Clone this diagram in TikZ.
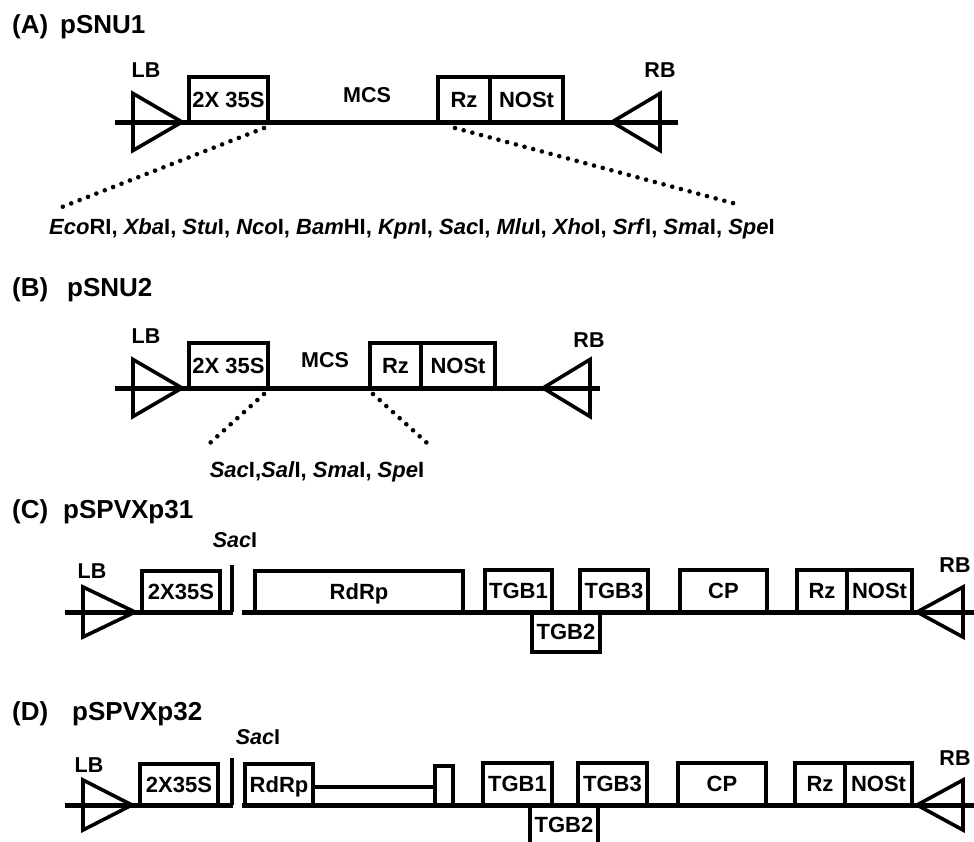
\documentclass[tikz,border=0pt]{standalone}
\usepackage{fontspec}
\setmainfont{Liberation Sans}
\newcommand{\ez}[2]{\textit{#1}#2}
\newcommand{\gb}[6]{\node[gbox, minimum width={#3-#2}, minimum height={#5-#4}] (#1) at ({(#2+#3)/2},{(#4+#5)/2}) {#6};}
\begin{document}
\begin{tikzpicture}[x=1pt,y=-1pt,
  mline/.style={line width=5pt},
  gbox/.style={draw, line width=3.6pt, inner sep=0pt, font=\fontsize{22}{22}\selectfont\bfseries, text height=15.1pt, text depth=0pt},
  tri/.style={draw, line width=3.6pt, line join=miter},
  bar/.style={line width=3.6pt},
  lbl/.style={inner sep=0pt, font=\fontsize{21.5}{21.5}\selectfont\bfseries, text height=14.8pt, text depth=0pt},
  ttl/.style={inner sep=0pt, anchor=base west, font=\fontsize{26}{26}\selectfont\bfseries},
  enz/.style={inner sep=0pt, anchor=base, font=\fontsize{22}{22}\selectfont\bfseries},
  dots/.style={line width=4.6pt, line cap=round, dash pattern=on 0pt off 9pt}]
\useasboundingbox (0,0) rectangle (974,841);

% ---------------- (A) pSNU1 ----------------
\node[ttl] (tA1) at (12,33) {(A)};
\node[ttl] (tA2) at (60,33) {pSNU1};
\draw[mline] (115,122) -- (678,122);
\draw[tri] (133,93.5) -- (182,122) -- (133,150.5) -- cycle;
\node[lbl] (lbA) at (146,70) {LB};
\gb{psA}{189}{268}{77}{122}{2X 35S}
\node[lbl] (mcsA) at (367,95) {MCS};
\gb{rzA}{438}{490}{77}{122}{Rz}
\gb{nosA}{490}{563}{77}{122}{NOSt}
\draw[tri] (660,93.5) -- (612,122) -- (660,150.5) -- cycle;
\node[lbl] (rbA) at (660,70) {RB};
\coordinate (dA1) at (264,128);
\coordinate (dA2) at (62,207);
\coordinate (dA3) at (455,128);
\coordinate (dA4) at (740,205);
\draw[dots] (dA1) -- (dA2);
\draw[dots] (dA3) -- (dA4);
\node[enz] (enzA) at (412,234) {\ez{Eco}{RI}, \ez{Xba}{I}, \ez{Stu}{I}, \ez{Nco}{I}, \ez{Bam}{HI}, \ez{Kpn}{I}, \ez{Sac}{I}, \ez{Mlu}{I}, \ez{Xho}{I}, \ez{Srf}{I}, \ez{Sma}{I}, \ez{Spe}{I}};

% ---------------- (B) pSNU2 ----------------
\node[ttl] (tB1) at (12,296) {(B)};
\node[ttl] (tB2) at (67,296) {pSNU2};
\draw[mline] (115,388) -- (600,388);
\draw[tri] (133,359.5) -- (182,388) -- (133,416.5) -- cycle;
\node[lbl] (lbB) at (146,336) {LB};
\gb{psB}{189}{268}{343}{388}{2X 35S}
\node[lbl] (mcsB) at (325,360) {MCS};
\gb{rzB}{370}{421}{343}{388}{Rz}
\gb{nosB}{421}{495}{343}{388}{NOSt}
\draw[tri] (590,359.5) -- (543,388) -- (590,416.5) -- cycle;
\node[lbl] (rbB) at (589,340) {RB};
\coordinate (dB1) at (264,394);
\coordinate (dB2) at (210,443);
\coordinate (dB3) at (373,394);
\coordinate (dB4) at (427,443);
\draw[dots] (dB1) -- (dB2);
\draw[dots] (dB3) -- (dB4);
\node[enz] (enzB) at (317,477) {\ez{Sac}{I},\ez{Sal}{I}, \ez{Sma}{I}, \ez{Spe}{I}};

% ---------------- (C) pSPVXp31 ----------------
\node[ttl] (tC1) at (12,518) {(C)};
\node[ttl] (tC2) at (63,518) {pSPVXp31};
\draw[mline] (65,612) -- (233,612);
\draw[mline] (242,612) -- (974,612);
\draw[tri] (83,587) -- (135,612) -- (83,637) -- cycle;
\node[lbl] (lbC) at (92,571) {LB};
\gb{psC}{142}{220}{571}{612}{2X35S}
\coordinate (sC1) at (232,565);
\coordinate (sC2) at (232,612);
\draw[bar] (sC1) -- (sC2);
\node[lbl] (sacC) at (235,540) {\textit{Sac}I};
\gb{rdC}{255}{463}{571}{612}{RdRp}
\gb{t1C}{485}{552}{570}{612}{TGB1}
\gb{t2C}{532}{600}{612}{652}{TGB2}
\gb{t3C}{580}{648}{570}{612}{TGB3}
\gb{cpC}{680}{767}{570}{612}{CP}
\gb{rzC}{797}{847}{570}{612}{Rz}
\gb{nosC}{847}{912}{570}{612}{NOSt}
\draw[tri] (963,587) -- (917,612) -- (963,637) -- cycle;
\node[lbl] (rbC) at (955,565) {RB};

% ---------------- (D) pSPVXp32 ----------------
\node[ttl] (tD1) at (12,720) {(D)};
\node[ttl] (tD2) at (72,720) {pSPVXp32};
\draw[mline] (65,805) -- (233,805);
\draw[mline] (242,805) -- (974,805);
\draw[tri] (83,780) -- (132,805) -- (83,830) -- cycle;
\node[lbl] (lbD) at (89,765) {LB};
\gb{psD}{140}{218}{764}{805}{2X35S}
\coordinate (sD1) at (232,758);
\coordinate (sD2) at (232,805);
\draw[bar] (sD1) -- (sD2);
\node[lbl] (sacD) at (258,737) {\textit{Sac}I};
\gb{rdD}{245}{313}{764}{805}{RdRp}
\gb{smD}{435}{453}{766}{805}{}
\draw[bar] (rdD.east |- 0,787) -- (smD.west |- 0,787);
\gb{t1D}{483}{552}{763}{805}{TGB1}
\draw[bar] (530,850) -- (530,805) (598,850) -- (598,805);
\node[lbl, font=\fontsize{22}{22}\selectfont\bfseries, text height=15.1pt] (t2D) at (564,825) {TGB2};
\gb{t3D}{578}{647}{763}{805}{TGB3}
\gb{cpD}{678}{766}{763}{805}{CP}
\gb{rzD}{795}{845}{763}{805}{Rz}
\gb{nosD}{845}{912}{763}{805}{NOSt}
\draw[tri] (963,780) -- (917,805) -- (963,830) -- cycle;
\node[lbl] (rbD) at (955,758) {RB};
\end{tikzpicture}
\end{document}
